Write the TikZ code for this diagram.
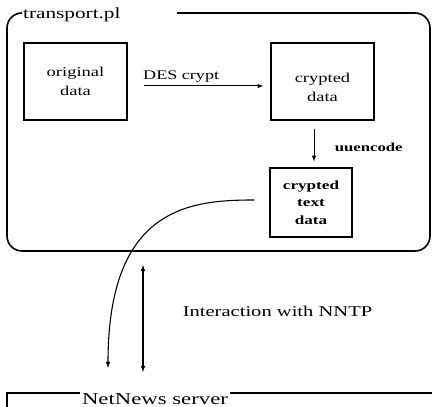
\documentclass[tikz,border=0pt]{standalone}
\usepackage{fontspec}
\setmainfont{Liberation Serif}[FakeStretch=1.37]
\begin{document}
\begin{tikzpicture}[x=1pt,y=1pt,>=latex,
    box/.style={draw,line width=1.2pt,minimum width=103pt,minimum height=77pt,
      align=center,font=\fontsize{13.5}{19}\selectfont},
    frame/.style={line width=1.6pt},
    conn/.style={line width=1.1pt}]
  \useasboundingbox (0,0) rectangle (432,407);
  % transport.pl frame
  \node[anchor=base west,inner sep=1pt,font=\fontsize{15.5}{18}\selectfont] (title) at (22,388) {transport.pl};
  \coordinate (tl) at (7,394);
  \coordinate (tr) at (177,394);
  \draw[frame,rounded corners=15pt] (title.west |- tl) -- (tl) -- (7,156) -- (430,156) -- (430,394) -- (tr);
  \node[box] (orig) at (75.5,325.5) {original\\data};
  \node[box] (crypt) at (322.5,325.5) {\rule{0pt}{21pt}crypted\\data};
  \node[box,minimum width=82pt,minimum height=69pt,
    font=\bfseries\fontsize{12.5}{17.5}\selectfont] (ctext) at (311,204.5) {crypted\\text\\data};
  \draw[->,line width=1pt,shorten <=16pt,shorten >=7pt] ([yshift=-4.5pt]orig.east) --
    node[pos=.375,anchor=base,yshift=6pt,font=\fontsize{13.2}{16}\selectfont] (des) {DES crypt}
    ([yshift=-4.5pt]crypt.west);
  \coordinate (uu) at (314,0);
  \draw[->,line width=1pt,shorten <=8pt,shorten >=6pt] (crypt.south -| uu) --
    node[pos=.667,anchor=base west,xshift=17pt,font=\bfseries\fontsize{12.2}{15}\selectfont] (uue) {uuencode}
    (ctext.north -| uu);
  % NNTP interaction
  \coordinate (ce) at (108,39);
  \coordinate (dt) at (143,142);
  \coordinate (db) at (143,35);
  \draw[->,conn] ([xshift=-15pt,yshift=2.5pt]ctext.west) .. controls (190,207) and (108,200) .. (ce);
  \draw[<->,conn] (dt) -- (db);
  \node[anchor=base,font=\fontsize{15}{18}\selectfont] (nntp) at (277.5,90) {Interaction with NNTP};
  % NetNews server frame
  \node[anchor=base,inner sep=2pt,font=\fontsize{16.6}{20}\selectfont] (ns) at (155,2) {NetNews server};
  \coordinate (nl) at (7,14);
  \draw[line width=1.4pt] (7,-3) -- (nl) -- (ns.west |- nl);
  \draw[line width=1.4pt] (ns.east |- nl) -- (440,14);
\end{tikzpicture}
\end{document}
